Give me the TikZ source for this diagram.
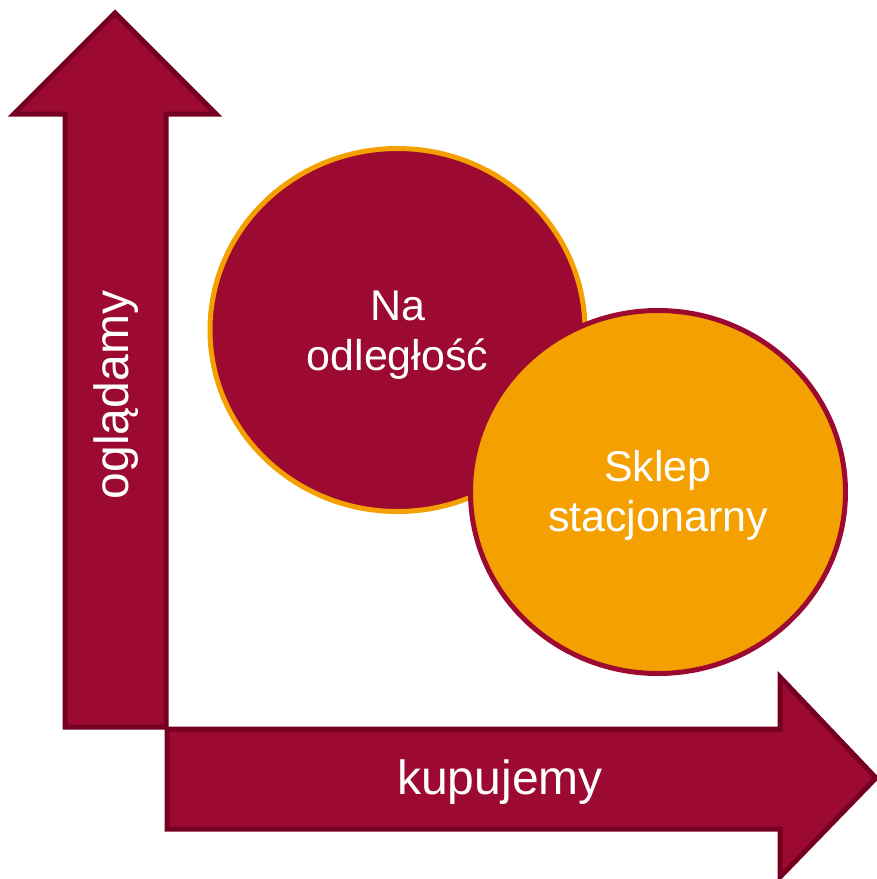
\documentclass[tikz,border=0pt]{standalone}
\usepackage{fontspec}
\setmainfont{Liberation Sans}
\usetikzlibrary{shapes.geometric}

\definecolor{wine}{HTML}{9C0A32}
\definecolor{darkwine}{HTML}{760022}
\definecolor{amber}{HTML}{F4A000}

\begin{document}
\begin{tikzpicture}[x=0.5pt, y=-0.5pt,
    arrowbody/.style={fill=wine, draw=darkwine, line width=2.5pt, line join=miter},
    blob/.style={ellipse, minimum width=187.5pt, minimum height=181.5pt, line width=2.5pt, inner sep=0pt},
    label/.style={text=white, font=\fontsize{24}{25.5}\selectfont, align=center},
    blobtext/.style={label, font=\fontsize{21.5}{25}\selectfont}]
    \useasboundingbox (0,0) rectangle (877,879);

    % arrows
    \draw[arrowbody] (65,727) -- (65,114) -- (14,114) -- (115,13) -- (216,114) -- (166,114) -- (166,727) -- cycle;
    \draw[arrowbody] (167,729) -- (780,729) -- (780,677) -- (876,778) -- (780,877) -- (780,829) -- (167,829) -- cycle;

    % circles
    \node[blob, fill=wine, draw=amber] (remote) at (397.5,330) {};
    \node[blob, fill=amber, draw=wine] (store) at (658,492) {};

    \node[blobtext] (remotetext) at ([yshift=-2.5pt]remote.center) {Na\\odległość};
    \node[blobtext] (storetext) at ([yshift=-1.5pt]store.center) {Sklep\\stacjonarny};
    \node[label, rotate=90] (look) at (116,395) {oglądamy};
    \node[label] (buy) at (500,782) {kupujemy};
\end{tikzpicture}
\end{document}
